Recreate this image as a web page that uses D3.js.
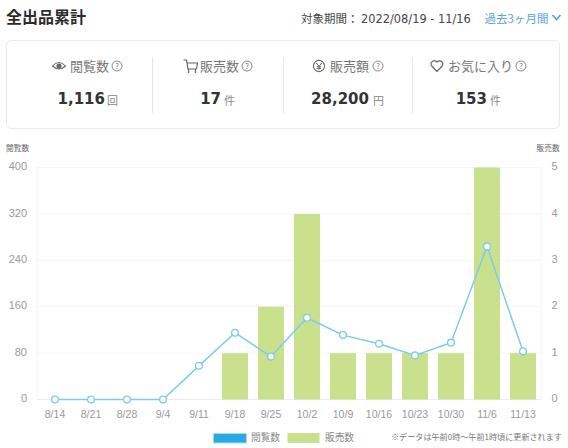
<!DOCTYPE html>
<html lang="ja">
<head>
<meta charset="utf-8">
<script src="https://cdn.jsdelivr.net/npm/d3@7"></script>
<style>
html,body{margin:0;padding:0;background:#fff;overflow:hidden}
svg{display:block}
text{font-family:"Noto Sans CJK JP",sans-serif}
.num{font-family:"DejaVu Sans",sans-serif;font-weight:700}
.lat{font-family:"DejaVu Sans",sans-serif}
g.tick text{font-family:"Liberation Sans",sans-serif}
</style>
</head>
<body>
<svg id="c" width="568" height="448"></svg>
<script>
const weeks = ["8/14","8/21","8/28","9/4","9/11","9/18","9/25","10/2","10/9","10/16","10/23","10/30","11/6","11/13"];
const views = [0,0,0,0,58,115,74,141,111,96,76,98,264,83];
const sales = [0,0,0,0,0,1,2,4,1,1,1,1,5,1];
const viewTicks = [0,80,160,240,320,400];
const salesTicks = [0,1,2,3,4,5];
const statLabels = ["閲覧数","販売数","販売額","お気に入り"];
const statValues = ["1,116","17","28,200","153"];
const statUnits = ["回","件","円","件"];

const svg = d3.select("#c");

// Page header
svg.append("text").attr("x",6).attr("y",23).attr("font-size",16).attr("font-weight",700)
  .attr("fill","#2b2b2b").text("全出品累計");
svg.append("text").attr("x",301).attr("y",23).attr("font-size",11.5).attr("fill","#444").text("対象期間：");
svg.append("text").attr("class","lat").attr("x",361).attr("y",23).attr("font-size",11.4).attr("fill","#444").text("2022/08/19 - 11/16");
svg.append("text").attr("x",484.5).attr("y",23).attr("font-size",11.5).attr("fill","#5aa5d8").text("過去3ヶ月間");
svg.append("path").attr("d","M552.5 15l4 4.5 4-4.5").attr("fill","none").attr("stroke","#5aa5d8").attr("stroke-width",1.8);

// Summary card
svg.append("rect").attr("x",6.5).attr("y",40.5).attr("width",553).attr("height",88).attr("rx",5)
  .attr("fill","#fff").attr("stroke","#e9e9e9");
[152.5,283.5,412.5].forEach(x => svg.append("line").attr("x1",x).attr("x2",x).attr("y1",57).attr("y2",113).attr("stroke","#e6e6e6"));

const labelX = [70,200,330,448];
const helpX = [117,247,378,521];
const valueEnd = [105,221,369,487];
const unitX = [107,224,373,490];
const iconStroke = "#666";

statLabels.forEach((t,i) => {
  svg.append("text").attr("x",labelX[i]).attr("y",71).attr("font-size",13).attr("fill","#777").text(t);
  const h = svg.append("g").attr("transform",`translate(${helpX[i]},66)`);
  h.append("circle").attr("r",5).attr("fill","none").attr("stroke","#888");
  h.append("text").attr("text-anchor","middle").attr("y",2.8).attr("font-size",7.5).attr("fill","#777").text("?");
  svg.append("text").attr("class","num").attr("x",valueEnd[i]).attr("y",104).attr("text-anchor","end")
    .attr("font-size",15).attr("fill","#333").text(statValues[i]);
  svg.append("text").attr("x",unitX[i]).attr("y",104.5).attr("font-size",11).attr("fill","#888").text(statUnits[i]);
});

// Stat icons: eye, cart, yen coin, heart
const eye = svg.append("g").attr("transform","translate(59,66)");
eye.append("path").attr("d","M-6.5 0Q0-7 6.5 0Q0 6-6.5 0Z").attr("fill","none").attr("stroke",iconStroke).attr("stroke-width",1.1);
eye.append("circle").attr("r",2.6).attr("fill",iconStroke);
svg.append("path").attr("d","M183.5 60h3l1.5 9h8.5M187 63h10.5l-1 6M188.5 69v4M195.5 69v4")
  .attr("fill","none").attr("stroke",iconStroke).attr("stroke-width",1.2);
const yen = svg.append("g").attr("transform","translate(319,66)");
yen.append("circle").attr("r",5.6).attr("fill","none").attr("stroke",iconStroke).attr("stroke-width",1.1);
yen.append("path").attr("d","M-2.6-3L0 0.5L2.6-3M0 0.5V3.6M-2.2 0.8H2.2M-2.2 2.4H2.2").attr("fill","none").attr("stroke",iconStroke);
svg.append("path").attr("d","M437 71.5L431.8 66A3.2 3.2 0 0 1 437 62.2A3.2 3.2 0 0 1 442.2 66Z")
  .attr("fill","none").attr("stroke",iconStroke).attr("stroke-width",1.2);

// Combined chart: sales bars with views line on a shared week axis
const x = d3.scaleBand().domain(weeks).range([37,541]).paddingInner(10/36).paddingOuter(5/36);
const yL = d3.scaleLinear().domain([0,400]).range([399.5,167.5]);
const yR = d3.scaleLinear().domain([0,5]).range([399.5,167.5]);
const cx = d => x(d)+x.bandwidth()/2;

svg.append("g").selectAll("line").data(viewTicks).join("line")
  .attr("x1",37).attr("x2",541).attr("y1",d=>yL(d)).attr("y2",d=>yL(d))
  .attr("stroke",d=>d===0?"#ececec":"#f6f6f6");
[37,541].forEach(v => svg.append("line").attr("x1",v).attr("x2",v).attr("y1",167.5).attr("y2",399.5).attr("stroke","#f3f3f3"));

svg.append("g").selectAll("rect").data(weeks).join("rect")
  .attr("x",d=>x(d)).attr("width",x.bandwidth())
  .attr("y",(d,i)=>yR(sales[i])).attr("height",(d,i)=>yR(0)-yR(sales[i]))
  .attr("fill","#c9e08c");

const points = weeks.map((w,i)=>[cx(w),yL(views[i])]);
svg.append("path").attr("d",d3.line()(points)).attr("fill","none").attr("stroke","#7ccbec").attr("stroke-width",1.5);
svg.append("g").selectAll("circle").data(points).join("circle")
  .attr("cx",d=>d[0]).attr("cy",d=>d[1]).attr("r",3.4)
  .attr("fill","#fff").attr("stroke","#7ccbec").attr("stroke-width",1.3);

// Axes
const styleAxis = g => {
  g.select(".domain").remove();
  g.selectAll(".tick line").remove();
  g.selectAll(".tick text").attr("fill","#999");
};
svg.append("g").attr("transform","translate(27,0)")
  .call(d3.axisLeft(yL).tickValues(viewTicks).tickSize(0).tickPadding(0))
  .call(styleAxis).selectAll("text").attr("font-size",11).attr("dy","0.2em");
svg.append("g").attr("transform","translate(551.5,0)")
  .call(d3.axisRight(yR).tickValues(salesTicks).tickFormat(d3.format("d")).tickSize(0).tickPadding(0))
  .call(styleAxis).selectAll("text").attr("font-size",11).attr("dy","0.2em");
svg.append("g").attr("transform","translate(0,410)")
  .call(d3.axisBottom(x).tickSize(0).tickPadding(0))
  .call(styleAxis).selectAll("text").attr("font-size",10.5).attr("dy","0.75em");

svg.append("text").attr("x",6).attr("y",151).attr("font-size",7.7).attr("fill","#666").text("閲覧数");
svg.append("text").attr("x",536.5).attr("y",151).attr("font-size",7.7).attr("fill","#666").text("販売数");

// Legend and footnote
svg.append("rect").attr("x",213.5).attr("y",433.5).attr("width",33).attr("height",9.5).attr("fill","#29a9e1").attr("stroke","#a8dcf3");
svg.append("text").attr("x",251).attr("y",441).attr("font-size",9.7).attr("fill","#888").text("閲覧数");
svg.append("rect").attr("x",287.5).attr("y",433).attr("width",32).attr("height",10).attr("fill","#c9e08c");
svg.append("text").attr("x",325).attr("y",441).attr("font-size",9.7).attr("fill","#888").text("販売数");
svg.append("text").attr("x",391).attr("y",439.5).attr("font-size",8.1).attr("fill","#777").text("※データは午前0時～午前1時頃に更新されます");
</script>
</body>
</html>
